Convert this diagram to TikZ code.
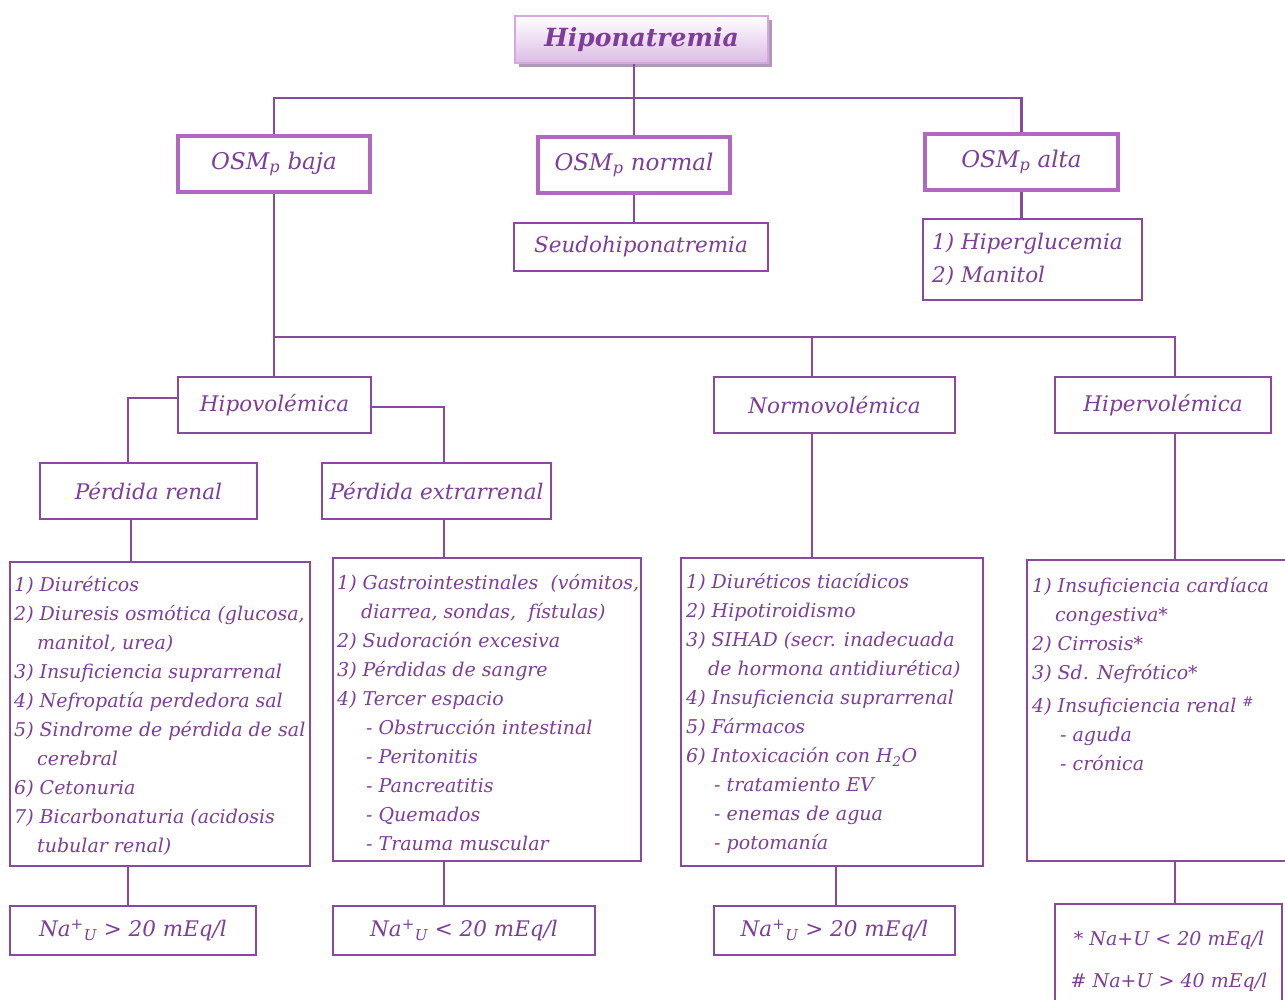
\documentclass[tikz,border=0pt]{standalone}
\usepackage{fontspec}
\setmainfont{DejaVu Serif}
\usetikzlibrary{shadows}
\definecolor{txtC}{RGB}{125,62,152}
\definecolor{lineC}{RGB}{138,72,160}
\definecolor{osmC}{RGB}{176,104,192}
\definecolor{ttlB}{RGB}{214,168,224}
\definecolor{ttlF}{RGB}{220,188,228}
\definecolor{shdC}{RGB}{176,152,184}
\begin{document}
\begin{tikzpicture}[x=1pt,y=-1pt,
  box/.style={draw=lineC,line width=2.2pt,inner sep=0pt,fill=white,text=txtC},
  obox/.style={draw=osmC,line width=4.5pt,inner sep=0pt,fill=white,text=txtC,font=\fontsize{23}{28}\selectfont\itshape},
  hbox/.style={box,font=\fontsize{21.5}{26}\selectfont\itshape},
  conn/.style={draw=lineC,line width=2.2pt},
  ltext/.style={anchor=north west,inner sep=0pt,align=left,text=txtC,font=\fontsize{19}{29}\selectfont\itshape},
  htext/.style={anchor=north west,inner sep=0pt,align=left,text=txtC,font=\fontsize{21.5}{33}\selectfont\itshape},
]
\useasboundingbox (0,0) rectangle (1285,999);
\fill[white] (0,0) rectangle (1285,999);

% title
\node[draw=ttlB,line width=2pt,top color=white,bottom color=ttlF,
  drop shadow={shadow xshift=4pt,shadow yshift=-4pt,fill=shdC,opacity=1},
  minimum width=253pt,minimum height=47pt,inner sep=0pt,
  font=\fontsize{25}{30}\selectfont\bfseries\itshape,text=txtC] (title) at (641.5,39.5) {Hiponatremia};

% OSM level
\node[obox,minimum width=192pt,minimum height=56pt] (obaja) at (274,164) {OSM\textsubscript{p} baja};
\node[obox,minimum width=192pt,minimum height=56pt] (onorm) at (634,165) {OSM\textsubscript{p} normal};
\node[obox,minimum width=193pt,minimum height=56pt] (oalta) at (1021.5,162) {OSM\textsubscript{p} alta};

\node[hbox,minimum width=254pt,minimum height=48pt] (seudo) at (641,247) {Seudohiponatremia};
\node[box,minimum width=219pt,minimum height=81pt] (hiperg) at (1032.5,259.5) {};
\node[htext] (hipergt) at (932,233) {1) Hiperglucemia\\2) Manitol};

% volemia level
\node[hbox,minimum width=193pt,minimum height=56pt] (hipo) at (274.5,405) {Hipovolémica};
\node[hbox,minimum width=241pt,minimum height=56pt] (normo) at (834.5,405) {Normovolémica};
\node[hbox,minimum width=216pt,minimum height=56pt] (hiper) at (1163,405) {Hipervolémica};

\node[hbox,minimum width=217pt,minimum height=56pt] (prenal) at (148.5,491) {Pérdida renal};
\node[hbox,minimum width=229pt,minimum height=56pt] (pextra) at (436.5,491) {Pérdida extrarrenal};

% list boxes
\node[box,minimum width=300pt,minimum height=304pt] (L1) at (160,714) {};
\node[box,minimum width=308pt,minimum height=303pt] (L2) at (487,709.5) {};
\node[box,minimum width=302pt,minimum height=308pt] (L3) at (832,712) {};
\node[box,minimum width=263pt,minimum height=301pt] (L4) at (1158.5,710.5) {};

\node[ltext] (L1t) at (14,576) {1) Diuréticos\\
2) Diuresis osmótica (glucosa,\\
\hspace*{23pt}manitol, urea)\\
3) Insuficiencia suprarrenal\\
4) Nefropatía perdedora sal\\
5) Sindrome de pérdida de sal\\
\hspace*{23pt}cerebral\\
6) Cetonuria\\
7) Bicarbonaturia (acidosis\\
\hspace*{23pt}tubular renal)};

\node[ltext] (L2t) at (337,574) {1) Gastrointestinales\ \ (vómitos,\\
\hspace*{24pt}diarrea, sondas,\ \ fístulas)\\
2) Sudoración excesiva\\
3) Pérdidas de sangre\\
4) Tercer espacio\\
\hspace*{29pt}- Obstrucción intestinal\\
\hspace*{29pt}- Peritonitis\\
\hspace*{29pt}- Pancreatitis\\
\hspace*{29pt}- Quemados\\
\hspace*{29pt}- Trauma muscular};

\node[ltext] (L3t) at (686,573) {1) Diuréticos tiacídicos\\
2) Hipotiroidismo\\
3) SIHAD (secr. inadecuada\\
\hspace*{22pt}de hormona antidiurética)\\
4) Insuficiencia suprarrenal\\
5) Fármacos\\
6) Intoxicación con H\textsubscript{2}O\\
\hspace*{28pt}- tratamiento EV\\
\hspace*{28pt}- enemas de agua\\
\hspace*{28pt}- potomanía};

\node[ltext] (L4t) at (1032,577) {1) Insuficiencia cardíaca\\
\hspace*{23pt}congestiva*\\
2) Cirrosis*\\
3) Sd. Nefrótico*\\[4pt]
4) Insuficiencia renal \textsuperscript{\#}\\
\hspace*{28pt}- aguda\\
\hspace*{28pt}- crónica};

% sodium boxes
\node[hbox,minimum width=246pt,minimum height=49pt] (N1) at (133,930.5) {Na\textsuperscript{+}\textsubscript{U} > 20 mEq/l};
\node[hbox,minimum width=262pt,minimum height=49pt] (N2) at (464,930.5) {Na\textsuperscript{+}\textsubscript{U} < 20 mEq/l};
\node[hbox,minimum width=241pt,minimum height=49pt] (N3) at (834.5,930.5) {Na\textsuperscript{+}\textsubscript{U} > 20 mEq/l};
\node[box,minimum width=227pt,minimum height=101pt] (N4) at (1168.5,954.5) {};
\node[anchor=center,inner sep=0pt,text=txtC,font=\fontsize{19}{24}\selectfont\itshape] (N4a) at (1169,940) {* Na+U < 20 mEq/l};
\node[anchor=center,inner sep=0pt,text=txtC,font=\fontsize{19}{24}\selectfont\itshape] (N4b) at (1169,982) {\# Na+U > 40 mEq/l};

% junction coordinates
\coordinate (b1) at (634,98);
\coordinate (b2n) at (812,337);
\coordinate (b2h) at (1175,337);
\coordinate (cA) at (128,0);
\coordinate (cB) at (444,0);
\coordinate (cC) at (131,0);
\coordinate (cD) at (836,0);

% connectors
\draw[conn] (onorm.north) -- (onorm.north |- title.south);
\draw[conn] (obaja.north) |- (b1) -| (oalta.north);
\draw[conn] (onorm.south) -- (onorm.south |- seudo.north);
\draw[conn] (oalta.south) -- (oalta.south |- hiperg.north);
\draw[conn] (obaja.south) -- (obaja.south |- hipo.north);
\draw[conn] (obaja.south |- b2n) -- (b2h) -- (b2h |- hiper.north);
\draw[conn] (b2n) -- (b2n |- normo.north);
\draw[conn] ([yshift=7pt]hipo.west) -| (cA |- prenal.north);
\draw[conn] ([yshift=-2pt]hipo.east) -| (cB |- pextra.north);
\draw[conn] (cC |- prenal.south) -- (cC |- L1.north);
\draw[conn] (cB |- pextra.south) -- (cB |- L2.north);
\draw[conn] (b2n |- normo.south) -- (b2n |- L3.north);
\draw[conn] (b2h |- hiper.south) -- (b2h |- L4.north);
\draw[conn] (cA |- L1.south) -- (cA |- N1.north);
\draw[conn] (cB |- L2.south) -- (cB |- N2.north);
\draw[conn] (cD |- L3.south) -- (cD |- N3.north);
\draw[conn] (b2h |- L4.south) -- (b2h |- N4.north);
\end{tikzpicture}
\end{document}
